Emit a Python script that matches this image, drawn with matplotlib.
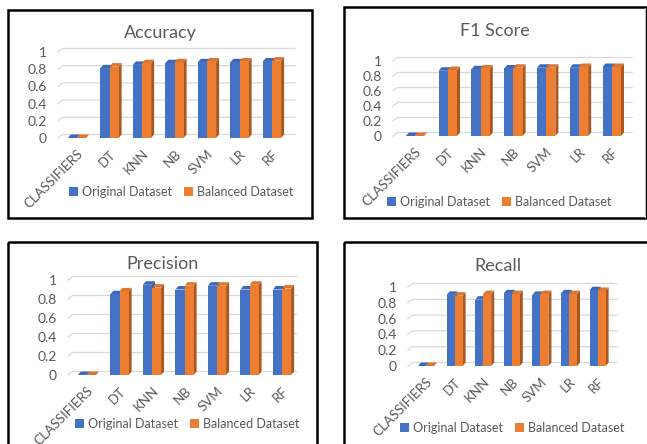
import matplotlib
matplotlib.use("Agg")
import matplotlib.pyplot as plt
from matplotlib.patches import Polygon, Patch, Rectangle
import numpy as np

plt.rcParams['font.family'] = ['Lato', 'DejaVu Sans']

classifiers = ["CLASSIFIERS", "DT", "KNN", "NB", "SVM", "LR", "RF"]
series_names = ["Original Dataset", "Balanced Dataset"]

accuracy_orig = [0, 0.81, 0.85, 0.87, 0.88, 0.88, 0.89]
accuracy_bal = [0, 0.83, 0.87, 0.88, 0.89, 0.89, 0.90]
f1_orig = [0, 0.87, 0.89, 0.90, 0.91, 0.91, 0.92]
f1_bal = [0, 0.88, 0.90, 0.91, 0.91, 0.92, 0.92]
precision_orig = [0, 0.85, 0.95, 0.90, 0.94, 0.90, 0.90]
precision_bal = [0, 0.88, 0.92, 0.94, 0.94, 0.95, 0.91]
recall_orig = [0, 0.90, 0.84, 0.92, 0.90, 0.92, 0.96]
recall_bal = [0, 0.89, 0.91, 0.91, 0.91, 0.91, 0.95]
yticks = [0, 0.2, 0.4, 0.6, 0.8, 1]
ytick_labels = ["0", "0.2", "0.4", "0.6", "0.8", "1"]

W, H = 647, 444
TXT = "#595959"
GRID = "#D9D9D9"
front = ["#4472C4", "#ED7D31"]
side = ["#2F5597", "#A9561F"]
top = ["#3D68B8", "#DD7430"]

fig = plt.figure(figsize=(W / 100, H / 100), dpi=100)
fig.patch.set_facecolor("white")

# panel frames (pixels: left, top, right, bottom)
frame_ax = fig.add_axes([0, 0, 1, 1], zorder=-5)
frame_ax.set_xlim(0, W)
frame_ax.set_ylim(H, 0)
frame_ax.axis("off")
for l, t, r, b in [(8, 10, 312, 218), (344, 7, 646, 218), (8, 242, 317, 460), (344, 242, 660, 460)]:
    frame_ax.add_patch(Rectangle((l, t), r - l, b - t, fill=False, ec="black", lw=1.8))
frame_ax.plot([645, 645], [8, 217], color="#BFBFBF", lw=0.8)

panels = [
    # title, orig, bal, axes left/right px, first center, spacing, zero y px, px per unit, title xy, legend xy
    ("Accuracy", accuracy_orig, accuracy_bal, 58, 295, 77, 32.5, 138, 86, (160, 33), (181, 192)),
    ("F1 Score", f1_orig, f1_bal, 393, 632, 415, 32.8, 136, 75, (495, 31), (499, 202)),
    ("Precision", precision_orig, precision_bal, 68, 297, 87, 32.5, 375, 95, (163, 264), (187, 424)),
    ("Recall", recall_orig, recall_bal, 408, 617, 426, 28.6, 366, 79, (498, 266), (512, 428)),
]

bw = 0.28
for title, orig, bal, left, right, c0, sp, y0, ppu, txy, lxy in panels:
    ytop = 1.12
    ax = fig.add_axes([left / W, (H - y0) / H, (right - left) / W, ytop * ppu / H])
    xlo = (left - c0) / sp
    xhi = (right - c0) / sp
    ax.set_xlim(xlo, xhi)
    ax.set_ylim(0, ytop)
    dx = 3.0 / sp
    dy = 3.5 / ppu

    # back wall gridlines
    for yv in yticks:
        ax.plot([xlo, xlo + dx * 1.5, xhi], [yv, yv + dy, yv + dy], color=GRID, lw=0.9, zorder=0, clip_on=False)

    x = np.arange(len(classifiers))
    for k, vals in enumerate([orig, bal]):
        x0s = x - bw + k * bw
        for x0, v in zip(x0s, vals):
            x1 = x0 + bw
            ax.add_patch(Polygon([(x1, 0), (x1 + dx, dy), (x1 + dx, v + dy), (x1, v)],
                                 closed=True, fc=side[k], ec="none", zorder=2 + k))
            ax.add_patch(Polygon([(x0, v), (x0 + dx, v + dy), (x1 + dx, v + dy), (x1, v)],
                                 closed=True, fc=top[k], ec="none", zorder=2 + k))
        ax.bar(x0s, vals, width=bw, align="edge", color=front[k], zorder=2 + k)

    ax.set_xticks(x)
    ax.set_xticklabels(classifiers, rotation=45, ha="right", va="top", rotation_mode="anchor",
                       color=TXT, fontsize=9.5)
    ax.set_yticks(yticks)
    ax.set_yticklabels(ytick_labels, color=TXT, fontsize=10)
    ax.tick_params(length=0, axis="y", pad=8)
    ax.tick_params(length=0, axis="x", pad=7)
    for s in ax.spines.values():
        s.set_visible(False)
    ax.patch.set_alpha(0)

    fig.text(txy[0] / W, 1 - txy[1] / H, title, ha="center", va="center", fontsize=13, color=TXT)
    handles = [Patch(fc=front[0]), Patch(fc=front[1])]
    fig.legend(handles, series_names, loc="center", bbox_to_anchor=(lxy[0] / W, 1 - lxy[1] / H),
               ncol=2, frameon=False, fontsize=9, labelcolor=TXT, handlelength=0.7,
               handleheight=0.7, handletextpad=0.3, columnspacing=1.0)

fig.savefig("out.png", dpi=100, facecolor="white")
